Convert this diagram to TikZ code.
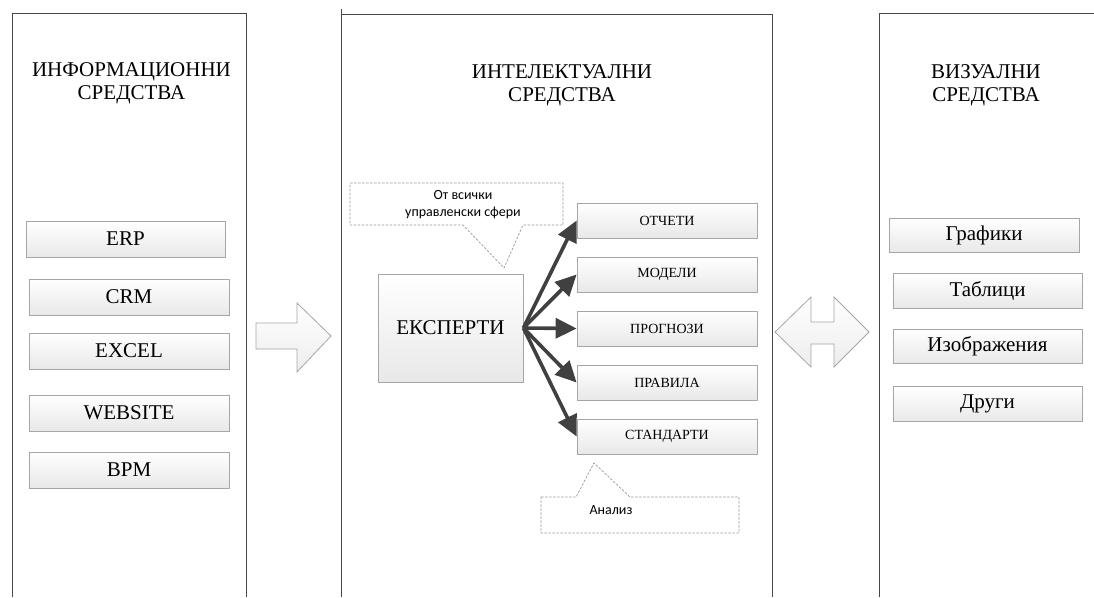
\documentclass[tikz,border=0pt]{standalone}
\usepackage{fontspec}
\setmainfont{Liberation Serif}
\newfontfamily\calibfont{Carlito}
\usetikzlibrary{arrows.meta}

\begin{document}
\begin{tikzpicture}[x=1pt,y=-1pt,
  panel/.style={draw=black!72, line width=0.9pt},
  title/.style={align=center, inner sep=0pt, font=\fontsize{21}{23}\selectfont},
  itembox/.style={draw=gray!70, line width=0.8pt, top color=white, bottom color=gray!18,
    inner sep=0pt, font=\fontsize{21}{23}\selectfont},
  leftbox/.style={itembox, minimum width=200pt, minimum height=36pt},
  rightbox/.style={itembox, minimum width=189pt, minimum height=34.5pt},
  outbox/.style={itembox, minimum width=180pt, minimum height=35pt, font=\fontsize{14}{16}\selectfont},
  fatarrow/.style={draw=black!75, line width=3.6pt, -{Triangle[length=21pt,width=20pt]}},
  blockarrow/.style={draw=gray!70, line width=0.8pt, top color=white, bottom color=gray!14},
  callout/.style={draw=gray!80, line width=0.7pt, dashed, dash pattern=on 2.5pt off 1.5pt, fill=white},
  notetext/.style={align=center, inner sep=0pt, font=\calibfont\fontsize{14}{17}\selectfont}
]
\useasboundingbox (0,0) rectangle (1094,597);

% three open-bottom panels
\draw[panel] (12,597) -- (12,13) -- (246,13) -- (246,597);
\draw[panel] (341,597) -- (341,9);
\draw[panel] (341,14) -- (772,14) -- (772,597);
\draw[panel] (879,597) -- (879,13) -- (1094,13);

% panel titles
\node[title] (t1) at (131.5,83) {ИНФОРМАЦИОННИ\\СРЕДСТВА};
\node[title] (t2) at (562,85) {ИНТЕЛЕКТУАЛНИ\\СРЕДСТВА};
\node[title] (t3) at (986,85.5) {ВИЗУАЛНИ\\СРЕДСТВА};

% information sources
\node[leftbox, minimum width=199pt] (erp) at (125.5,239) {ERP};
\node[leftbox] (crm) at (129,297) {CRM};
\node[leftbox] (excel) at (129,351) {EXCEL};
\node[leftbox] (web) at (129,413) {WEBSITE};
\node[leftbox] (bpm) at (129,470) {BPM};

% visual means
\node[rightbox, minimum width=190pt] (graf) at (984,235.5) {Графики};
\node[rightbox] (tabl) at (987.5,291) {Таблици};
\node[rightbox] (izob) at (987.5,346.5) {Изображения};
\node[rightbox] (drugi) at (987.5,404) {Други};

% experts and their outputs
\node[itembox, minimum width=145pt, minimum height=108pt] (exp) at (450.5,328) {ЕКСПЕРТИ};
\node[outbox] (o1) at (667,220.5) {ОТЧЕТИ};
\node[outbox] (o2) at (667,274.5) {МОДЕЛИ};
\node[outbox] (o3) at (667,328.5) {ПРОГНОЗИ};
\node[outbox] (o4) at (667,382.5) {ПРАВИЛА};
\node[outbox] (o5) at (667,436.5) {СТАНДАРТИ};

\foreach \o in {o1,o2,o3,o4,o5}
  \draw[fatarrow] (exp.east) -- (\o.west);

% callouts
\path[callout] (350,183) -- (563,183) -- (563,225) -- (523,225) -- (504,268)
  -- (463,225) -- (350,225) -- cycle;
\node[notetext] (n1) at (463,205) {От всички\\управленски сфери};
\path[callout] (541,497) -- (576,497) -- (594,463) -- (630,497) -- (739,497)
  -- (739,533) -- (541,533) -- cycle;
\node[notetext] (n2) at (611,510) {Анализ};

% block arrows between panels
\path[blockarrow] (256,323) -- (297,323) -- (297,303) -- (331,336) -- (297,372)
  -- (297,349) -- (256,349) -- cycle;
\path[blockarrow] (775,332) -- (811,297) -- (811,322) -- (834,322) -- (834,297)
  -- (869,332) -- (834,367) -- (834,344) -- (811,344) -- (811,367) -- cycle;
\end{tikzpicture}
\end{document}
